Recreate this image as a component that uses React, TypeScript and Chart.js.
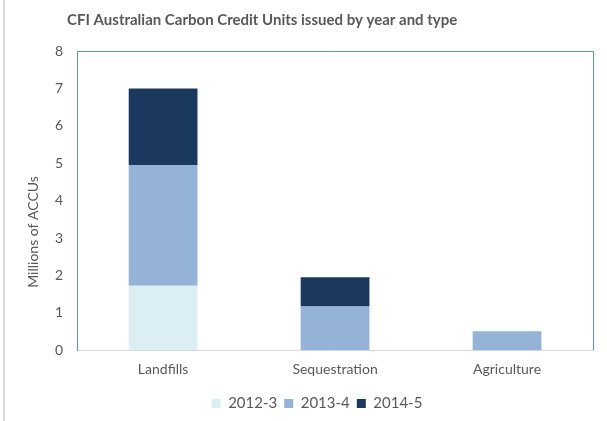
import React, { useEffect, useRef } from "react";
import { Chart, registerables } from "chart.js";

Chart.register(...registerables);

const titleText = "CFI Australian Carbon Credit Units issued by year and type";
const yAxisTitle = "Millions of ACCUs";
const categories = ["Landfills", "Sequestration", "Agriculture"];
const seriesNames = ["2012-3", "2013-4", "2014-5"];
const v2012 = [1.72, 0, 0];
const v2013 = [3.23, 1.17, 0.51];
const v2014 = [2.05, 0.78, 0];
const colors = ["#DBEEF4", "#95B3D7", "#1B385F"];
const yTicks = [0, 1, 2, 3, 4, 5, 6, 7, 8];

const FONT = "Lato, 'Open Sans', sans-serif";
const TEXT = "#595959";

const framePlugin = {
  id: "frame",
  afterDraw(chart: any) {
    const { ctx, chartArea } = chart;
    ctx.save();
    ctx.strokeStyle = "#5B8FC9";
    ctx.lineWidth = 1;
    ctx.beginPath();
    ctx.moveTo(chartArea.left, chartArea.top + 0.5);
    ctx.lineTo(chartArea.right + 0.5, chartArea.top + 0.5);
    ctx.lineTo(chartArea.right + 0.5, chartArea.bottom);
    ctx.stroke();
    ctx.fillStyle = TEXT;
    ctx.font = "bold 15px " + FONT;
    ctx.textAlign = "left";
    ctx.textBaseline = "middle";
    ctx.fillText(titleText, chartArea.left - 10, 20);
    ctx.save();
    ctx.translate(33, 232);
    ctx.rotate(-Math.PI / 2);
    ctx.font = "14px " + FONT;
    ctx.textAlign = "center";
    ctx.fillText(yAxisTitle, 0, 0);
    ctx.restore();
    ctx.restore();
  },
};

export default function App() {
  const ref = useRef<HTMLCanvasElement>(null);
  useEffect(() => {
    if (!ref.current) return;
    const data = [v2012, v2013, v2014];
    const chart = new Chart(ref.current, {
      type: "bar",
      data: {
        labels: categories,
        datasets: seriesNames.map((n, i) => ({
          label: n,
          data: data[i],
          backgroundColor: colors[i],
          borderWidth: 0,
          categoryPercentage: 0.8,
          barPercentage: 0.5,
        })),
      },
      options: {
        animation: false,
        responsive: false,
        maintainAspectRatio: false,
        layout: { padding: { top: 51, left: 41, right: 14, bottom: 0 } },
        plugins: {
          title: { display: false },
          tooltip: { enabled: false },
          legend: {
            position: "bottom",
            labels: {
              boxWidth: 9,
              boxHeight: 9,
              color: TEXT,
              font: { family: FONT, size: 15 },
              padding: 7,
            },
          },
        },
        scales: {
          x: {
            stacked: true,
            grid: { display: false, drawTicks: false },
            border: { color: "#D9D9D9", width: 1 },
            ticks: { color: TEXT, font: { family: FONT, size: 14 }, padding: 11 },
          },
          y: {
            stacked: true,
            min: 0,
            max: 8,
            afterBuildTicks(axis: any) {
              axis.ticks = yTicks.map((v) => ({ value: v }));
            },
            grid: { display: false, drawTicks: false },
            border: { color: "#5B8FC9", width: 1 },
            ticks: { color: TEXT, font: { family: FONT, size: 14 }, padding: 14 },
          },
        },
      },
      plugins: [framePlugin],
    });
    return () => chart.destroy();
  }, []);
  return (
    <div style={{ position: "absolute", left: 0, top: 0, width: 607, height: 421, background: "#fff" }}>
      <div style={{ position: "absolute", left: 3, top: 0, width: 2, height: 421, background: "#D9D9D9" }} />
      <canvas ref={ref} width={607} height={421} style={{ position: "absolute", left: 0, top: 0 }} />
    </div>
  );
}
